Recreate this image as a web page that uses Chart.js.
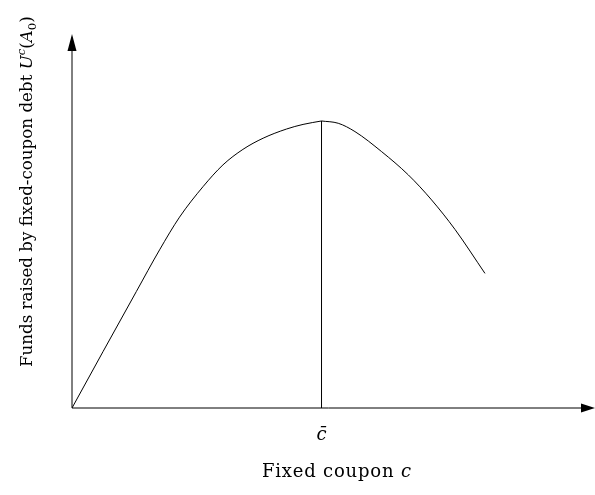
<!DOCTYPE html>
<html>
<head>
<meta charset="utf-8">
<script src="https://cdn.jsdelivr.net/npm/chart.js@4"></script>
<style>
  html, body { margin: 0; padding: 0; background: #fff; }
  #wrap { width: 595px; height: 495px; }
</style>
</head>
<body>
<div id="wrap"><canvas id="c" width="595" height="495"></canvas></div>
<script>
// ---- data (c̄ normalised to 1, peak funds normalised to 1) ----
const couponValues = [0, 0.124, 0.258, 0.351, 0.431, 0.525, 0.605, 0.685, 0.766, 0.860, 0.926, 1.0,
                      1.067, 1.134, 1.241, 1.348, 1.441, 1.535, 1.655];
const fundsValues  = [0, 0.196, 0.406, 0.551, 0.665, 0.771, 0.847, 0.901, 0.940, 0.972, 0.988, 1.0,
                      0.992, 0.963, 0.893, 0.812, 0.725, 0.622, 0.469];
const cBar = 1.0;
const tickLabels = ['c\u0304'];
const xTitleRuns = [['Fixed coupon ', 'n'], ['c', 'i']];
const yTitleRuns = [['Funds raised by fixed-coupon debt ', 'n'], ['U', 'i'], ['c', 'sup'], ['(', 'n'], ['A', 'i'], ['0', 'sub'], [')', 'n']];

const peakIndex = couponValues.indexOf(cBar);
const pts = couponValues.map((x, i) => ({ x: x, y: fundsValues[i] }));
const rising = pts.slice(0, peakIndex + 1);
const falling = pts.slice(peakIndex);
const vline = [{ x: cBar, y: 0 }, { x: cBar, y: fundsValues[peakIndex] }];

const FONT = '"DejaVu Serif", serif';

function runFont(kind, size) {
  if (kind === 'i') return 'italic ' + size + 'px ' + FONT;
  if (kind === 'sup' ) return 'italic ' + (size * 0.7).toFixed(1) + 'px ' + FONT;
  if (kind === 'sub') return (size * 0.7).toFixed(1) + 'px ' + FONT;
  return size + 'px ' + FONT;
}
function drawRuns(ctx, runs, x, y, size) {
  let cx = x;
  for (const [t, k] of runs) {
    ctx.font = runFont(k, size);
    let dy = 0;
    if (k === 'sup') dy = -size * 0.42;
    if (k === 'sub') dy = size * 0.22;
    ctx.fillText(t, cx, y + dy);
    cx += ctx.measureText(t).width;
  }
  return cx - x;
}

const decor = {
  id: 'decor',
  afterDatasetsDraw(chart) {
    const ctx = chart.ctx;
    const xs = chart.scales.x, ys = chart.scales.y;
    const ox = xs.getPixelForValue(0), oy = ys.getPixelForValue(0);
    const xEnd = xs.getPixelForValue(xs.max), yEnd = ys.getPixelForValue(ys.max);
    ctx.save();
    ctx.strokeStyle = '#000';
    ctx.fillStyle = '#000';
    ctx.lineWidth = 1;
    // axes
    ctx.beginPath();
    ctx.moveTo(ox, oy); ctx.lineTo(xEnd - 10, oy);
    ctx.moveTo(ox, oy); ctx.lineTo(ox, yEnd + 10);
    ctx.stroke();
    // arrow heads
    ctx.beginPath();
    ctx.moveTo(xEnd, oy); ctx.lineTo(xEnd - 14, oy - 4.5); ctx.lineTo(xEnd - 14, oy + 4.5); ctx.closePath();
    ctx.fill();
    ctx.beginPath();
    ctx.moveTo(ox, yEnd); ctx.lineTo(ox - 4.5, yEnd + 17); ctx.lineTo(ox + 4.5, yEnd + 17); ctx.closePath();
    ctx.fill();
    // tick label c̄
    ctx.letterSpacing = '0px';
    ctx.font = 'italic 18px ' + FONT;
    ctx.textAlign = 'center';
    ctx.textBaseline = 'alphabetic';
    ctx.fillText(tickLabels[0], xs.getPixelForValue(cBar), 440);
    // x title
    ctx.textAlign = 'left';
    ctx.letterSpacing = '0.8px';
    drawRuns(ctx, xTitleRuns, 262, 477, 18);
    // y title
    ctx.letterSpacing = '0px';
    ctx.translate(32, 367);
    ctx.rotate(-Math.PI / 2);
    drawRuns(ctx, yTitleRuns, 0, 0, 16.7);
    ctx.restore();
  }
};

new Chart(document.getElementById('c'), {
  type: 'line',
  data: {
    datasets: [
      { data: rising, borderColor: '#000', borderWidth: 1, pointRadius: 0, cubicInterpolationMode: 'monotone', fill: false },
      { data: falling, borderColor: '#000', borderWidth: 1, pointRadius: 0, cubicInterpolationMode: 'monotone', fill: false },
      { data: vline, borderColor: '#000', borderWidth: 1, pointRadius: 0, tension: 0, fill: false }
    ]
  },
  options: {
    responsive: false,
    animation: false,
    events: [],
    layout: { padding: { left: 72, right: 0, top: 34, bottom: 87 } },
    plugins: { legend: { display: false }, tooltip: { enabled: false } },
    scales: {
      x: { type: 'linear', display: false, min: 0, max: 2.096 },
      y: { type: 'linear', display: false, min: 0, max: 1.303 }
    }
  },
  plugins: [decor]
});
</script>
</body>
</html>
